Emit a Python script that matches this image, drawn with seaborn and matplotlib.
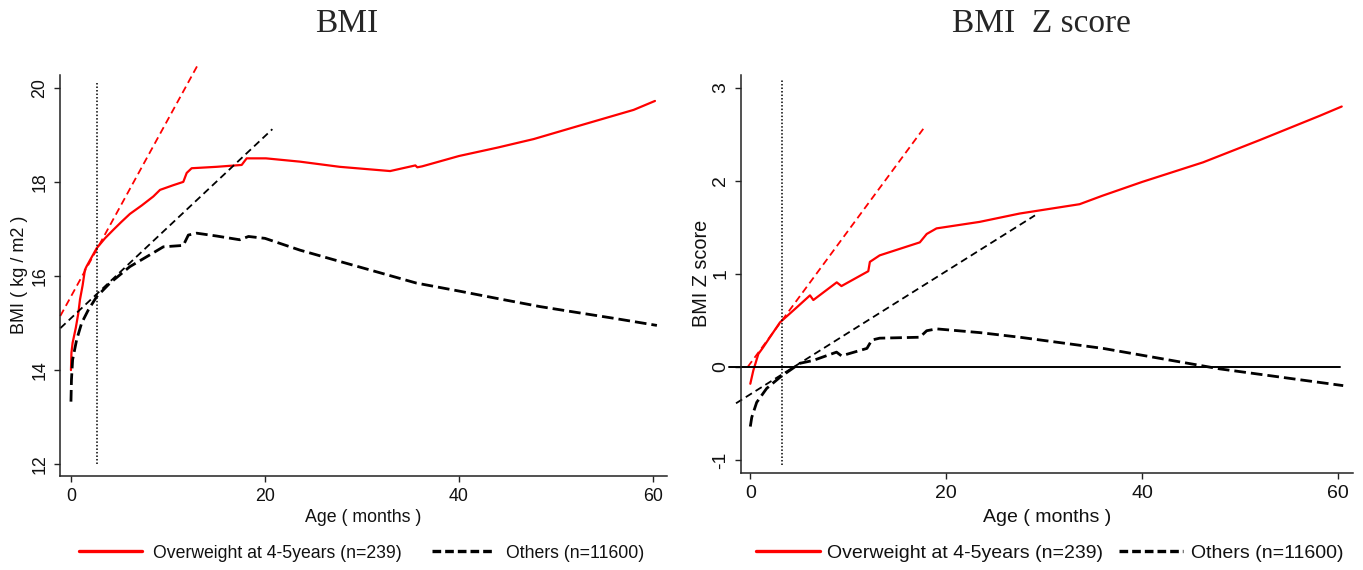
import numpy as np
import pandas as pd
import matplotlib
matplotlib.use("Agg")
import matplotlib.pyplot as plt
import seaborn as sns
from matplotlib.lines import Line2D

# ---------------- data ----------------
months_ow_bmi = [0, 0.05, 0.17, 0.5, 0.76, 0.93, 1.2, 1.44, 1.6, 2.0, 2.65, 3.5, 4.36, 5.2, 6.08,
                 7.3, 8.49, 9.18, 10.55, 11.58, 11.93, 12.44, 15.0, 17.6, 18.11, 20.1, 23.6, 27.7,
                 32.9, 35.5, 35.7, 36.2, 40, 44, 47.7, 52, 56, 58, 60.2]
bmi_ow = [14.0, 14.37, 14.58, 14.9, 15.21, 15.5, 15.8, 16.13, 16.2, 16.35, 16.59, 16.8, 16.98, 17.15,
          17.32, 17.5, 17.69, 17.83, 17.93, 18.0, 18.19, 18.29, 18.32, 18.36, 18.5, 18.5, 18.43, 18.32,
          18.23, 18.35, 18.31, 18.33, 18.55, 18.73, 18.91, 19.17, 19.41, 19.53, 19.72]

months_ot_bmi = [0, 0.05, 0.17, 0.58, 1.1, 1.79, 2.65, 4.02, 6.08, 8.14, 9.52, 11.58, 12.1, 12.96,
                 15, 17.4, 18.3, 20, 23.6, 27.7, 32, 35.6, 40, 44, 48.35, 52, 56, 60.4]
bmi_ot = [13.33, 13.79, 14.22, 14.64, 15.0, 15.28, 15.56, 15.85, 16.2, 16.45, 16.62, 16.65, 16.87, 16.91,
          16.85, 16.77, 16.84, 16.8, 16.55, 16.31, 16.06, 15.85, 15.68, 15.52, 15.35, 15.23, 15.1, 14.95]

months_ow_z = [0, 0.3, 0.82, 1.3, 2.0, 3.03, 4.73, 6.09, 6.43, 8.82, 9.3, 12.04, 12.2, 13.2, 17.3,
               18.0, 19.0, 23.4, 27.5, 33.6, 35.9, 40, 46.2, 52, 58.1, 60.35]
z_ow = [-0.18, -0.04, 0.14, 0.21, 0.32, 0.48, 0.64, 0.77, 0.72, 0.91, 0.87, 1.03, 1.13, 1.2, 1.34,
        1.43, 1.49, 1.56, 1.65, 1.75, 1.84, 1.99, 2.2, 2.44, 2.70, 2.80]

months_ot_z = [0, 0.15, 0.65, 1.67, 3.03, 5.07, 6.4, 8.8, 9.3, 11.9, 12.4, 13.2, 17.3, 18.0, 19.0,
               23.4, 27.5, 36.0, 47.9, 60.5]
z_ot = [-0.64, -0.54, -0.38, -0.23, -0.11, 0.04, 0.07, 0.16, 0.12, 0.2, 0.29, 0.31, 0.32, 0.39, 0.41,
        0.37, 0.32, 0.2, -0.02, -0.2]

# tangent lines (endpoints)
tan_bmi_ow_x = [-1.1, 13.06]
tan_bmi_ow_y = [15.15, 20.48]
tan_bmi_ot_x = [-1.1, 20.76]
tan_bmi_ot_y = [14.89, 19.12]
tan_z_ow_x = [-0.27, 17.65]
tan_z_ow_y = [0.0, 2.56]
tan_z_ot_x = [-1.46, 29.05]
tan_z_ot_y = [-0.39, 1.63]

ref_age_bmi = 2.7
ref_age_z = 3.2
ref_span_bmi = [12.0, 20.1]
ref_span_z = [-1.05, 3.1]
zero_line_x = [-2.2, 60.2]
zero_line_y = [0, 0]

titles = ["BMI", "BMI  Z score"]
ylabels = ["BMI ( kg / m2 )", "BMI Z score"]
xlabel = "Age ( months )"
legend_labels = ["Overweight at 4-5years (n=239)", "Others (n=11600)"]
x_ticks = [0, 20, 40, 60]
y_ticks_bmi = [12, 14, 16, 18, 20]
y_ticks_z = [-1, 0, 1, 2, 3]

# ---------------- style ----------------
sns.set_style("ticks")
plt.rcParams["font.family"] = ["Liberation Sans", "DejaVu Sans"]

RED = "#ff0000"
TXT = "#111111"
fig = plt.figure(figsize=(13.63, 5.70), dpi=100)
W, H = 1363, 570

def ax_rect(l, r, t, b):
    return [l / W, 1 - b / H, (r - l) / W, (b - t) / H]

axL = fig.add_axes(ax_rect(60, 667, 60, 476))
axR = fig.add_axes(ax_rect(741, 1353, 60, 472.7))

OT_DASH = (4.2, 1.8)
TAN_DASH = (4, 2.4)

def draw(ax, mo, yo, mt, yt, tox, toy, ttx, tty, ref, ref_span, xlim, ylim, spine_top, yticks, fs):
    df_o = pd.DataFrame({"m": mo, "v": yo})
    df_t = pd.DataFrame({"m": mt, "v": yt})
    sns.lineplot(data=df_o, x="m", y="v", ax=ax, color=RED, lw=1.6, estimator=None, sort=False)
    sns.lineplot(data=df_t, x="m", y="v", ax=ax, color="black", lw=2.0, estimator=None, sort=False)
    ax.lines[-1].set_dashes(OT_DASH)
    l1 = ax.plot(tox, toy, color=RED, lw=1.3, clip_on=False)[0]
    l1.set_dashes(TAN_DASH)
    l2 = ax.plot(ttx, tty, color="black", lw=1.3, clip_on=False)[0]
    l2.set_dashes(TAN_DASH)
    ax.plot([ref, ref], ref_span, color="black", lw=1.1, ls=(0, (1, 1.3)))
    ax.set_xlim(xlim)
    ax.set_ylim(ylim)
    ax.set_xticks(x_ticks)
    ax.set_yticks(yticks)
    ax.set_yticklabels([str(v) for v in yticks], rotation=90, va="center")
    for s in ["top", "right"]:
        ax.spines[s].set_visible(False)
    for s in ["left", "bottom"]:
        ax.spines[s].set_color("#222222")
        ax.spines[s].set_linewidth(1.1)
    ax.spines["left"].set_bounds(ylim[0], spine_top)
    ax.tick_params(axis="both", direction="out", length=4.5, width=1.0, color="#222222",
                   labelsize=fs, labelcolor=TXT, bottom=True, left=True)
    ax.tick_params(axis="x", pad=4)
    ax.tick_params(axis="y", pad=4)
    ax.set_xlabel(xlabel, fontsize=fs, color=TXT)
    ax.grid(False)

fsL = 12.8
fsR = 14.0
draw(axL, months_ow_bmi, bmi_ow, months_ot_bmi, bmi_ot, tan_bmi_ow_x, tan_bmi_ow_y,
     tan_bmi_ot_x, tan_bmi_ot_y, ref_age_bmi, ref_span_bmi, (-1.13, 61.44), (11.75, 20.59), 20.27,
     y_ticks_bmi, fsL)
draw(axR, months_ow_z, z_ow, months_ot_z, z_ot, tan_z_ow_x, tan_z_ow_y,
     tan_z_ot_x, tan_z_ot_y, ref_age_z, ref_span_z, (-0.95, 61.5), (-1.136, 3.30), 3.136,
     y_ticks_z, fsR)
axR.plot(zero_line_x, zero_line_y, color="black", lw=1.4, clip_on=False)

axL.set_ylabel(ylabels[0], fontsize=13.0, color=TXT)
axR.set_ylabel(ylabels[1], fontsize=14.3, color=TXT)
axL.yaxis.set_label_coords(-0.066, 0.483)
axR.yaxis.set_label_coords(-0.064, 0.483)
axL.yaxis.label.set_va("center")
axR.yaxis.label.set_va("center")
axL.xaxis.set_label_coords(0.5, (476 - 518) / 416)
axR.xaxis.set_label_coords(0.5, (472.7 - 518) / 412.7)
axL.xaxis.label.set_va("center")
axR.xaxis.label.set_va("center")

fig.text(346.5 / W, 1 - 24 / H, titles[0], ha="center", va="center", fontsize=24,
         family=["Liberation Serif", "DejaVu Serif"])
fig.text(1041.5 / W, 1 - 24 / H, titles[1], ha="center", va="center", fontsize=24,
         family=["Liberation Serif", "DejaVu Serif"])

def legend(cx, fs, hl, htp, cs):
    h1 = Line2D([], [], color=RED, lw=2.4)
    h2 = Line2D([], [], color="black", lw=2.4, dashes=(2.6, 1.2))
    leg = fig.legend([h1, h2], legend_labels, loc="center", bbox_to_anchor=(cx / W, 1 - 553 / H),
                     ncol=2, frameon=False, fontsize=fs, handlelength=hl, handletextpad=htp,
                     columnspacing=cs, borderpad=0)
    for t in leg.get_texts():
        t.set_color(TXT)

legend(361.5, 12.7, 3.6, 0.6, 1.7)
legend(1049.5, 14.0, 3.3, 0.4, 0.8)

fig.savefig("out.png", dpi=100, facecolor="white")
